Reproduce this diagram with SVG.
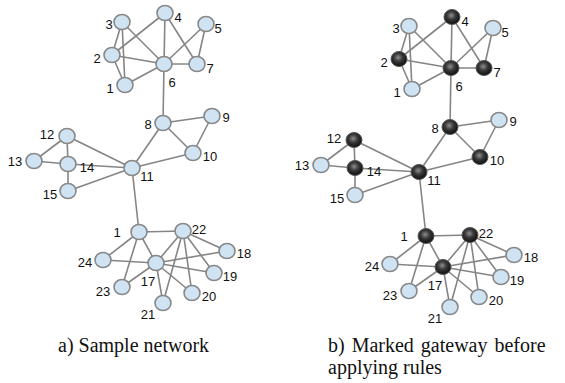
<svg xmlns="http://www.w3.org/2000/svg" width="565" height="383" viewBox="0 0 565 383">
<style>
.e{stroke:#858585;stroke-width:1.6;fill:none}
.n{fill:#cfe3f3;stroke:#888;stroke-width:1.6}
.d{fill:url(#dk);stroke:#555;stroke-width:1}
.l{font-family:"Liberation Sans",Arial,sans-serif;font-size:13px;fill:#111;text-anchor:middle}
.c{font-family:"Liberation Serif","Times New Roman",serif;font-size:20px;fill:#111}
</style>
<defs>
<radialGradient id="dk" cx="0.45" cy="0.4" r="0.6">
<stop offset="0" stop-color="#8e8e8e"/>
<stop offset="0.45" stop-color="#3a3a3a"/>
<stop offset="1" stop-color="#0d0d0d"/>
</radialGradient>
</defs>
<rect width="565" height="383" fill="#fff"/>

<!-- Graph a -->
<g id="graph-a">
<g id="a-connectors">
<line class="e" x1="122" y1="22" x2="112" y2="55"/>
<line class="e" x1="122" y1="22" x2="125" y2="85"/>
<line class="e" x1="122" y1="22" x2="164" y2="64"/>
<line class="e" x1="112" y1="55" x2="125" y2="85"/>
<line class="e" x1="112" y1="55" x2="165" y2="13"/>
<line class="e" x1="112" y1="55" x2="164" y2="64"/>
<line class="e" x1="125" y1="85" x2="164" y2="64"/>
<line class="e" x1="165" y1="13" x2="164" y2="64"/>
<line class="e" x1="165" y1="13" x2="197" y2="64"/>
<line class="e" x1="206" y1="24" x2="164" y2="64"/>
<line class="e" x1="206" y1="24" x2="197" y2="64"/>
<line class="e" x1="164" y1="64" x2="197" y2="64"/>
<line class="e" x1="164" y1="64" x2="163" y2="123"/>
<line class="e" x1="163" y1="123" x2="212" y2="116"/>
<line class="e" x1="163" y1="123" x2="193" y2="153"/>
<line class="e" x1="212" y1="116" x2="193" y2="153"/>
<line class="e" x1="163" y1="123" x2="132" y2="168"/>
<line class="e" x1="193" y1="153" x2="132" y2="168"/>
<line class="e" x1="67" y1="136" x2="34" y2="161"/>
<line class="e" x1="67" y1="136" x2="68" y2="164"/>
<line class="e" x1="67" y1="136" x2="132" y2="168"/>
<line class="e" x1="34" y1="161" x2="68" y2="164"/>
<line class="e" x1="68" y1="164" x2="132" y2="168"/>
<line class="e" x1="68" y1="164" x2="68" y2="191"/>
<line class="e" x1="68" y1="191" x2="132" y2="168"/>
<line class="e" x1="132" y1="168" x2="139" y2="232"/>
<line class="e" x1="139" y1="232" x2="183" y2="231"/>
<line class="e" x1="139" y1="232" x2="103" y2="260"/>
<line class="e" x1="139" y1="232" x2="156" y2="263"/>
<line class="e" x1="139" y1="232" x2="122" y2="287"/>
<line class="e" x1="103" y1="260" x2="156" y2="263"/>
<line class="e" x1="183" y1="231" x2="156" y2="263"/>
<line class="e" x1="183" y1="231" x2="163" y2="303"/>
<line class="e" x1="183" y1="231" x2="192" y2="293"/>
<line class="e" x1="183" y1="231" x2="214" y2="273"/>
<line class="e" x1="183" y1="231" x2="227" y2="251"/>
<line class="e" x1="156" y1="263" x2="227" y2="251"/>
<line class="e" x1="156" y1="263" x2="214" y2="273"/>
<line class="e" x1="156" y1="263" x2="192" y2="293"/>
<line class="e" x1="156" y1="263" x2="163" y2="303"/>
<line class="e" x1="156" y1="263" x2="122" y2="287"/>
</g>
<g id="a-t1"><ellipse class="n" cx="125" cy="85" rx="8" ry="7.5"/><text class="l" x="110" y="93">1</text></g>
<g id="a-t2"><ellipse class="n" cx="112" cy="55" rx="8" ry="7.5"/><text class="l" x="97" y="63">2</text></g>
<g id="a-t3"><ellipse class="n" cx="122" cy="22" rx="8" ry="7.5"/><text class="l" x="109" y="29">3</text></g>
<g id="a-t4"><ellipse class="n" cx="165" cy="13" rx="8" ry="7.5"/><text class="l" x="178" y="22">4</text></g>
<g id="a-t5"><ellipse class="n" cx="206" cy="24" rx="8" ry="7.5"/><text class="l" x="218" y="33">5</text></g>
<g id="a-t6"><ellipse class="n" cx="164" cy="64" rx="8" ry="7.5"/><text class="l" x="172" y="87">6</text></g>
<g id="a-t7"><ellipse class="n" cx="197" cy="64" rx="8" ry="7.5"/><text class="l" x="210" y="73">7</text></g>
<g id="a-n8"><ellipse class="n" cx="163" cy="123" rx="8" ry="7.5"/><text class="l" x="148" y="129">8</text></g>
<g id="a-n9"><ellipse class="n" cx="212" cy="116" rx="8" ry="7.5"/><text class="l" x="226" y="122">9</text></g>
<g id="a-n10"><ellipse class="n" cx="193" cy="153" rx="8" ry="7.5"/><text class="l" x="210" y="161">10</text></g>
<g id="a-n11"><ellipse class="n" cx="132" cy="168" rx="8" ry="7.5"/><text class="l" x="147" y="181">11</text></g>
<g id="a-n12"><ellipse class="n" cx="67" cy="136" rx="8" ry="7.5"/><text class="l" x="47" y="139">12</text></g>
<g id="a-n13"><ellipse class="n" cx="34" cy="161" rx="8" ry="7.5"/><text class="l" x="15" y="166">13</text></g>
<g id="a-n14"><ellipse class="n" cx="68" cy="164" rx="8" ry="7.5"/><text class="l" x="87" y="172">14</text></g>
<g id="a-n15"><ellipse class="n" cx="68" cy="191" rx="8" ry="7.5"/><text class="l" x="50" y="199">15</text></g>
<g id="a-b1"><ellipse class="n" cx="139" cy="232" rx="8" ry="7.5"/><text class="l" x="117" y="237">1</text></g>
<g id="a-b22"><ellipse class="n" cx="183" cy="231" rx="8" ry="7.5"/><text class="l" x="199" y="234">22</text></g>
<g id="a-b24"><ellipse class="n" cx="103" cy="260" rx="8" ry="7.5"/><text class="l" x="85" y="267">24</text></g>
<g id="a-b17"><ellipse class="n" cx="156" cy="263" rx="8" ry="7.5"/><text class="l" x="148" y="286">17</text></g>
<g id="a-b18"><ellipse class="n" cx="227" cy="251" rx="8" ry="7.5"/><text class="l" x="244" y="258">18</text></g>
<g id="a-b19"><ellipse class="n" cx="214" cy="273" rx="8" ry="7.5"/><text class="l" x="230" y="281">19</text></g>
<g id="a-b23"><ellipse class="n" cx="122" cy="287" rx="8" ry="7.5"/><text class="l" x="103" y="296">23</text></g>
<g id="a-b20"><ellipse class="n" cx="192" cy="293" rx="8" ry="7.5"/><text class="l" x="209" y="301">20</text></g>
<g id="a-b21"><ellipse class="n" cx="163" cy="303" rx="8" ry="7.5"/><text class="l" x="148" y="319">21</text></g>
</g>

<!-- Graph b -->
<g id="graph-b" transform="translate(287,4)">
<g id="b-connectors">
<line class="e" x1="122" y1="22" x2="112" y2="55"/>
<line class="e" x1="122" y1="22" x2="125" y2="85"/>
<line class="e" x1="122" y1="22" x2="164" y2="64"/>
<line class="e" x1="112" y1="55" x2="125" y2="85"/>
<line class="e" x1="112" y1="55" x2="165" y2="13"/>
<line class="e" x1="112" y1="55" x2="164" y2="64"/>
<line class="e" x1="125" y1="85" x2="164" y2="64"/>
<line class="e" x1="165" y1="13" x2="164" y2="64"/>
<line class="e" x1="165" y1="13" x2="197" y2="64"/>
<line class="e" x1="206" y1="24" x2="164" y2="64"/>
<line class="e" x1="206" y1="24" x2="197" y2="64"/>
<line class="e" x1="164" y1="64" x2="197" y2="64"/>
<line class="e" x1="164" y1="64" x2="163" y2="123"/>
<line class="e" x1="163" y1="123" x2="212" y2="116"/>
<line class="e" x1="163" y1="123" x2="193" y2="153"/>
<line class="e" x1="212" y1="116" x2="193" y2="153"/>
<line class="e" x1="163" y1="123" x2="132" y2="168"/>
<line class="e" x1="193" y1="153" x2="132" y2="168"/>
<line class="e" x1="67" y1="136" x2="34" y2="161"/>
<line class="e" x1="67" y1="136" x2="68" y2="164"/>
<line class="e" x1="67" y1="136" x2="132" y2="168"/>
<line class="e" x1="34" y1="161" x2="68" y2="164"/>
<line class="e" x1="68" y1="164" x2="132" y2="168"/>
<line class="e" x1="68" y1="164" x2="68" y2="191"/>
<line class="e" x1="68" y1="191" x2="132" y2="168"/>
<line class="e" x1="132" y1="168" x2="139" y2="232"/>
<line class="e" x1="139" y1="232" x2="183" y2="231"/>
<line class="e" x1="139" y1="232" x2="103" y2="260"/>
<line class="e" x1="139" y1="232" x2="156" y2="263"/>
<line class="e" x1="139" y1="232" x2="122" y2="287"/>
<line class="e" x1="103" y1="260" x2="156" y2="263"/>
<line class="e" x1="183" y1="231" x2="156" y2="263"/>
<line class="e" x1="183" y1="231" x2="163" y2="303"/>
<line class="e" x1="183" y1="231" x2="192" y2="293"/>
<line class="e" x1="183" y1="231" x2="214" y2="273"/>
<line class="e" x1="183" y1="231" x2="227" y2="251"/>
<line class="e" x1="156" y1="263" x2="227" y2="251"/>
<line class="e" x1="156" y1="263" x2="214" y2="273"/>
<line class="e" x1="156" y1="263" x2="192" y2="293"/>
<line class="e" x1="156" y1="263" x2="163" y2="303"/>
<line class="e" x1="156" y1="263" x2="122" y2="287"/>
</g>
<g id="b-t1"><ellipse class="n" cx="125" cy="85" rx="8" ry="7.5"/><text class="l" x="110" y="93">1</text></g>
<g id="b-t2"><ellipse class="d" cx="112" cy="55" rx="8" ry="7.5"/><text class="l" x="97" y="63">2</text></g>
<g id="b-t3"><ellipse class="n" cx="122" cy="22" rx="8" ry="7.5"/><text class="l" x="109" y="29">3</text></g>
<g id="b-t4"><ellipse class="d" cx="165" cy="13" rx="8" ry="7.5"/><text class="l" x="178" y="22">4</text></g>
<g id="b-t5"><ellipse class="n" cx="206" cy="24" rx="8" ry="7.5"/><text class="l" x="218" y="33">5</text></g>
<g id="b-t6"><ellipse class="d" cx="164" cy="64" rx="8" ry="7.5"/><text class="l" x="172" y="87">6</text></g>
<g id="b-t7"><ellipse class="d" cx="197" cy="64" rx="8" ry="7.5"/><text class="l" x="210" y="73">7</text></g>
<g id="b-n8"><ellipse class="d" cx="163" cy="123" rx="8" ry="7.5"/><text class="l" x="148" y="129">8</text></g>
<g id="b-n9"><ellipse class="n" cx="212" cy="116" rx="8" ry="7.5"/><text class="l" x="226" y="122">9</text></g>
<g id="b-n10"><ellipse class="d" cx="193" cy="153" rx="8" ry="7.5"/><text class="l" x="210" y="161">10</text></g>
<g id="b-n11"><ellipse class="d" cx="132" cy="168" rx="8" ry="7.5"/><text class="l" x="147" y="181">11</text></g>
<g id="b-n12"><ellipse class="d" cx="67" cy="136" rx="8" ry="7.5"/><text class="l" x="47" y="139">12</text></g>
<g id="b-n13"><ellipse class="n" cx="34" cy="161" rx="8" ry="7.5"/><text class="l" x="15" y="166">13</text></g>
<g id="b-n14"><ellipse class="d" cx="68" cy="164" rx="8" ry="7.5"/><text class="l" x="87" y="172">14</text></g>
<g id="b-n15"><ellipse class="n" cx="68" cy="191" rx="8" ry="7.5"/><text class="l" x="50" y="199">15</text></g>
<g id="b-b1"><ellipse class="d" cx="139" cy="232" rx="8" ry="7.5"/><text class="l" x="117" y="237">1</text></g>
<g id="b-b22"><ellipse class="d" cx="183" cy="231" rx="8" ry="7.5"/><text class="l" x="199" y="234">22</text></g>
<g id="b-b24"><ellipse class="n" cx="103" cy="260" rx="8" ry="7.5"/><text class="l" x="85" y="267">24</text></g>
<g id="b-b17"><ellipse class="d" cx="156" cy="263" rx="8" ry="7.5"/><text class="l" x="148" y="286">17</text></g>
<g id="b-b18"><ellipse class="n" cx="227" cy="251" rx="8" ry="7.5"/><text class="l" x="244" y="258">18</text></g>
<g id="b-b19"><ellipse class="n" cx="214" cy="273" rx="8" ry="7.5"/><text class="l" x="230" y="281">19</text></g>
<g id="b-b23"><ellipse class="n" cx="122" cy="287" rx="8" ry="7.5"/><text class="l" x="103" y="296">23</text></g>
<g id="b-b20"><ellipse class="n" cx="192" cy="293" rx="8" ry="7.5"/><text class="l" x="209" y="301">20</text></g>
<g id="b-b21"><ellipse class="n" cx="163" cy="303" rx="8" ry="7.5"/><text class="l" x="148" y="319">21</text></g>
</g>

<g id="captions">
<text class="c" x="58" y="352">a) Sample network</text>
<text class="c" x="328" y="352" word-spacing="2">b) Marked gateway before</text>
<text class="c" x="328" y="374">applying rules</text>
</g>
</svg>
